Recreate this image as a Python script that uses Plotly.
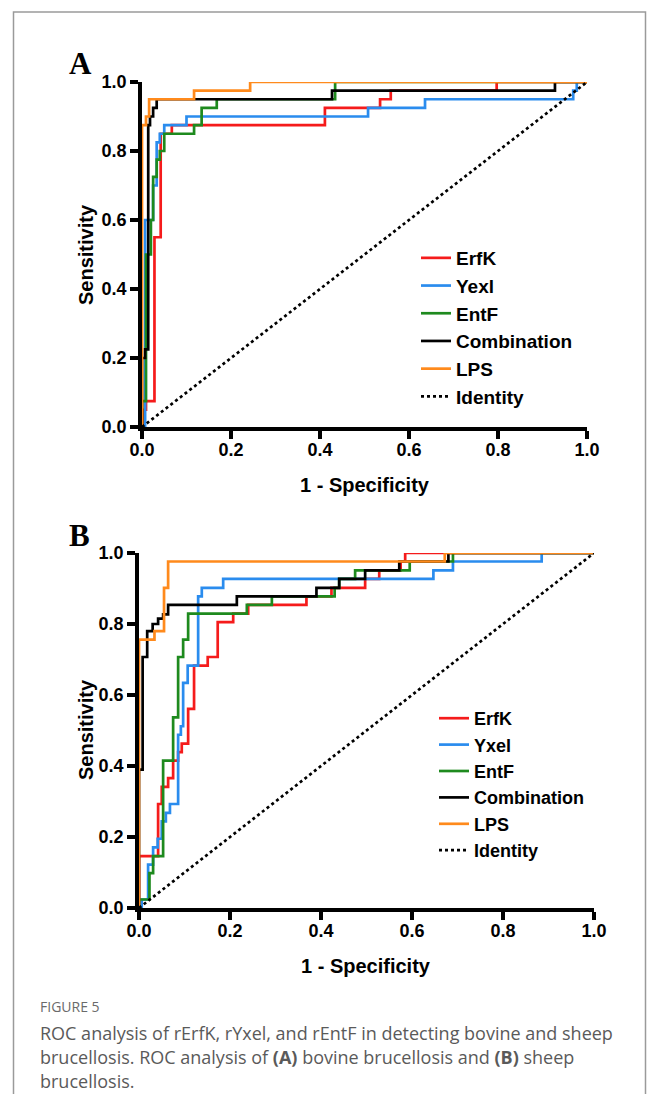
import plotly.graph_objects as go

# page body has an 8px margin; the figure fills the rest of the 657x1102 window
OFF = 8
W, H = 657 - 2 * OFF, 1102 - 2 * OFF

# ---------------- data: panel A (bovine) ----------------
a_erfk_fpr = [0, 0.003, 0.009, 0.028, 0.042, 0.067, 0.411, 0.535, 0.559, 0.797, 1.0]
a_erfk_tpr = [0, 0.05, 0.075, 0.55, 0.85, 0.875, 0.925, 0.95, 0.975, 1.0, 1.0]

a_yexl_fpr = [0, 0.007, 0.025, 0.033, 0.04, 0.05, 0.1, 0.508, 0.636, 0.969, 0.977, 1.0]
a_yexl_tpr = [0, 0.6, 0.7, 0.825, 0.85, 0.875, 0.9, 0.925, 0.95, 0.975, 1.0, 1.0]

a_entf_fpr = [0, 0, 0.009, 0.02, 0.025, 0.033, 0.04, 0.05, 0.117, 0.134, 0.168, 0.434, 1.0]
a_entf_tpr = [0, 0.075, 0.5, 0.6, 0.725, 0.775, 0.8, 0.85, 0.875, 0.925, 0.95, 1.0, 1.0]

a_comb_fpr = [0, 0, 0.007, 0.014, 0.018, 0.025, 0.033, 0.427, 0.928, 1.0]
a_comb_tpr = [0, 0.2, 0.225, 0.875, 0.9, 0.925, 0.95, 0.975, 1.0, 1.0]

a_lps_fpr = [0, 0, 0.009, 0.016, 0.117, 0.243, 1.0]
a_lps_tpr = [0, 0.875, 0.9, 0.95, 0.975, 1.0, 1.0]

# ---------------- data: panel B (sheep) ----------------
b_erfk_fpr = [0, 0, 0.042, 0.05, 0.064, 0.075, 0.086, 0.094, 0.108, 0.121, 0.151, 0.173,
              0.207, 0.24, 0.368, 0.423, 0.497, 0.528, 0.575, 0.585, 1.0]
b_erfk_tpr = [0, 0.146, 0.293, 0.341, 0.366, 0.415, 0.439, 0.463, 0.561, 0.683, 0.707, 0.805,
              0.829, 0.854, 0.878, 0.902, 0.927, 0.951, 0.976, 1.0, 1.0]

b_yxel_fpr = [0, 0.006, 0.02, 0.031, 0.041, 0.05, 0.059, 0.068, 0.086, 0.092, 0.097, 0.107,
              0.13, 0.138, 0.185, 0.647, 0.69, 0.885, 1.0]
b_yxel_tpr = [0, 0.024, 0.122, 0.171, 0.195, 0.244, 0.268, 0.293, 0.488, 0.512, 0.634, 0.683,
              0.878, 0.902, 0.927, 0.951, 0.976, 1.0, 1.0]

b_entf_fpr = [0, 0, 0.023, 0.031, 0.053, 0.075, 0.086, 0.097, 0.108, 0.237, 0.292, 0.43,
              0.44, 0.475, 0.595, 0.69, 1.0]
b_entf_tpr = [0, 0.024, 0.098, 0.146, 0.415, 0.537, 0.707, 0.756, 0.829, 0.854, 0.878, 0.902,
              0.927, 0.951, 0.976, 1.0, 1.0]

b_comb_fpr = [0, 0, 0.008, 0.018, 0.03, 0.042, 0.053, 0.064, 0.215, 0.39, 0.44, 0.497, 0.572, 0.68, 1.0]
b_comb_tpr = [0, 0.39, 0.707, 0.78, 0.8, 0.815, 0.827, 0.854, 0.878, 0.902, 0.927, 0.951, 0.976, 1.0, 1.0]

b_lps_fpr = [0, 0, 0.034, 0.055, 0.064, 0.672, 1.0]
b_lps_tpr = [0, 0.756, 0.78, 0.902, 0.976, 1.0, 1.0]

identity = [0, 1]

tick_vals = [0, 0.2, 0.4, 0.6, 0.8, 1.0]
tick_text = ["0.0", "0.2", "0.4", "0.6", "0.8", "1.0"]

names_a = ["ErfK", "Yexl", "EntF", "Combination", "LPS"]
names_b = ["ErfK", "Yxel", "EntF", "Combination", "LPS"]
colors = ["#F51B1B", "#2A8CEE", "#1E8A1E", "#000000", "#FF8A1C"]

series_a = [(a_erfk_fpr, a_erfk_tpr), (a_yexl_fpr, a_yexl_tpr), (a_entf_fpr, a_entf_tpr),
            (a_comb_fpr, a_comb_tpr), (a_lps_fpr, a_lps_tpr)]
series_b = [(b_erfk_fpr, b_erfk_tpr), (b_yxel_fpr, b_yxel_tpr), (b_entf_fpr, b_entf_tpr),
            (b_comb_fpr, b_comb_tpr), (b_lps_fpr, b_lps_tpr)]

FONT = "Liberation Sans, Arial, Helvetica, sans-serif"

fig = go.Figure()

def add_panel(series, names, xa, ya, legend):
    for (fx, ty), nm, col in zip(series, names, colors):
        fig.add_trace(go.Scatter(x=fx, y=ty, mode="lines", name=nm, xaxis=xa, yaxis=ya,
                                 line=dict(color=col, width=2.7, shape="hv"), legend=legend))
    fig.add_trace(go.Scatter(x=identity, y=identity, mode="lines", name="Identity", xaxis=xa, yaxis=ya,
                             line=dict(color="#000000", width=2.7, dash="dot"), legend=legend))

add_panel(series_a, names_a, "x", "y", "legend")
add_panel(series_b, names_b, "x2", "y2", "legend2")

def px_x(p):
    return (p - OFF) / W

def px_y(p):
    return 1 - (p - OFF) / H

axis_common = dict(range=[0, 1], tickvals=tick_vals, ticktext=tick_text, showgrid=False, zeroline=False,
                   showline=True, linecolor="black", linewidth=3.5, ticks="outside", ticklen=8,
                   tickwidth=3.5, tickcolor="black", layer="below traces", automargin=False,
                   tickfont=dict(family=FONT, size=18, color="black", weight="bold"), fixedrange=True)
x_extra = dict(ticklabelstandoff=-4)

fig.update_layout(
    template="none",
    width=W, height=H, margin=dict(l=0, r=0, t=0, b=0, pad=0, autoexpand=False),
    paper_bgcolor="white", plot_bgcolor="white",
    xaxis=dict(domain=[px_x(142), px_x(587)], anchor="y", **axis_common, **x_extra),
    yaxis=dict(domain=[px_y(427), px_y(82)], anchor="x", **axis_common),
    xaxis2=dict(domain=[px_x(139), px_x(594)], anchor="y2", **axis_common, **x_extra),
    yaxis2=dict(domain=[px_y(908), px_y(553)], anchor="x2", **axis_common),
    legend=dict(x=px_x(416), y=px_y(239), xanchor="left", yanchor="top", bgcolor="rgba(0,0,0,0)",
                font=dict(family=FONT, size=19, color="black", weight="bold"),
                traceorder="normal", borderwidth=0),
    legend2=dict(x=px_x(434), y=px_y(700), xanchor="left", yanchor="top", bgcolor="rgba(0,0,0,0)",
                 font=dict(family=FONT, size=18, color="black", weight="bold"),
                 traceorder="normal", borderwidth=0),
    showlegend=True,
)

ann = []
letter_font = dict(family="Liberation Serif, Times New Roman, serif", size=31, color="black", weight="bold")
ann.append(dict(text="A", x=px_x(67), y=px_y(63), xref="paper", yref="paper", xanchor="left", yanchor="middle",
                showarrow=False, font=letter_font))
ann.append(dict(text="B", x=px_x(67), y=px_y(535), xref="paper", yref="paper", xanchor="left", yanchor="middle",
                showarrow=False, font=letter_font))
title_font = dict(family=FONT, size=20, color="black", weight="bold")
ann.append(dict(text="Sensitivity", x=px_x(86), y=px_y(255), xref="paper", yref="paper", textangle=-90,
                xanchor="center", yanchor="middle", showarrow=False, font=title_font))
ann.append(dict(text="1 - Specificity", x=px_x(365), y=px_y(485), xref="paper", yref="paper",
                xanchor="center", yanchor="middle", showarrow=False, font=title_font))
ann.append(dict(text="Sensitivity", x=px_x(86), y=px_y(730), xref="paper", yref="paper", textangle=-90,
                xanchor="center", yanchor="middle", showarrow=False, font=title_font))
ann.append(dict(text="1 - Specificity", x=px_x(366), y=px_y(966), xref="paper", yref="paper",
                xanchor="center", yanchor="middle", showarrow=False, font=title_font))
CAP = "Open Sans, Lato, sans-serif"
ann.append(dict(text="FIGURE 5", x=px_x(38), y=px_y(1006), xref="paper", yref="paper", xanchor="left",
                yanchor="middle", showarrow=False, font=dict(family=CAP, size=14, color="#6a6a6a")))
cap_lines = ["ROC analysis of rErfK, rYxel, and rEntF in detecting bovine and sheep",
             "brucellosis. ROC analysis of <b>(A)</b> bovine brucellosis and <b>(B)</b> sheep",
             "brucellosis."]
for i, t in enumerate(cap_lines):
    ann.append(dict(text=t, x=px_x(38), y=px_y(1033 + 24 * i), xref="paper", yref="paper", xanchor="left",
                    yanchor="middle", showarrow=False, font=dict(family=CAP, size=18, color="#5a5a5a")))
fig.update_layout(annotations=ann)

fig.add_shape(type="rect", xref="paper", yref="paper", x0=px_x(13.5), x1=px_x(645.5), y0=px_y(1130), y1=px_y(12),
              line=dict(color="#9a9a9a", width=1.5), fillcolor="rgba(0,0,0,0)", layer="below")

fig.write_html("out.html")
